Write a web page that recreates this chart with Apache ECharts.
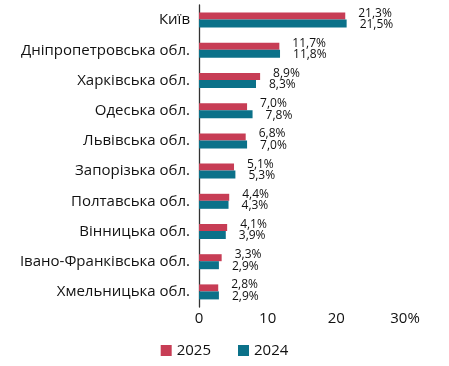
<!DOCTYPE html>
<html><head><meta charset="utf-8">
<script src="https://cdn.jsdelivr.net/npm/echarts@6/dist/echarts.min.js"></script>
<style>html,body{margin:0;padding:0;background:#fff}#c{width:449px;height:366px}</style>
</head><body><div id="c"></div>
<script>
const categories = ["Київ","Дніпропетровська обл.","Харківська обл.","Одеська обл.","Львівська обл.","Запорізька обл.","Полтавська обл.","Вінницька обл.","Івано-Франківська обл.","Хмельницька обл."];
const values2025 = [21.3,11.7,8.9,7.0,6.8,5.1,4.4,4.1,3.3,2.8];
const values2024 = [21.5,11.8,8.3,7.8,7.0,5.3,4.3,3.9,2.9,2.9];
const xTicks = [0,10,20,30];
const FONT = "'Open Sans', sans-serif";
const fmt = v => v.toFixed(1).replace('.', ',') + '%';
const chart = echarts.init(document.getElementById('c'), null, {renderer:'canvas'});
chart.setOption({
  animation:false,
  textStyle:{fontFamily:FONT},
  grid:{left:199,right:44,top:5,bottom:59,containLabel:false},
  legend:{
    bottom:3,left:'center',itemWidth:11,itemHeight:11,itemGap:27,
    icon:'rect',
    textStyle:{fontSize:15,color:'#111',fontFamily:FONT},
    data:['2025','2024']
  },
  xAxis:{type:'value',min:0,max:30,interval:10,
    axisLine:{show:false},axisTick:{show:false},splitLine:{show:false},
    axisLabel:{fontSize:15,color:'#111',margin:4,fontFamily:FONT,
      formatter:v=> xTicks.indexOf(v)===xTicks.length-1 ? v+'%' : String(v)}},
  yAxis:{type:'category',data:categories,inverse:true,
    axisLine:{show:true,lineStyle:{color:'#333',width:1.3}},axisTick:{show:false},
    axisLabel:{fontSize:15,color:'#111',margin:9,fontFamily:FONT}},
  series:[
    {name:'2025',type:'bar',data:values2025,barWidth:7,barGap:'0%',
     itemStyle:{color:'#c73d55'},
     label:{show:true,position:'right',distance:13,offset:[0,-3],fontSize:12,color:'#111',formatter:p=>fmt(p.value),fontFamily:FONT}},
    {name:'2024',type:'bar',data:values2024,barWidth:8,
     itemStyle:{color:'#0b7189'},
     label:{show:true,position:'right',distance:13,offset:[0,1],fontSize:12,color:'#111',formatter:p=>fmt(p.value),fontFamily:FONT}}
  ]
});
</script></body></html>
